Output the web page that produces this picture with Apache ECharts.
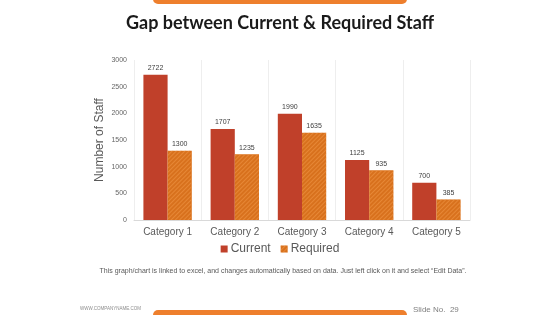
<!DOCTYPE html>
<html>
<head>
<meta charset="utf-8">
<script src="https://cdn.jsdelivr.net/npm/echarts@6/dist/echarts.min.js"></script>
<style>
  html, body { margin: 0; padding: 0; background: #fff; }
  #chart { width: 560px; height: 315px; }
</style>
</head>
<body>
<div id="chart"></div>
<script>
var categories = ["Category 1", "Category 2", "Category 3", "Category 4", "Category 5"];
var current = [2722, 1707, 1990, 1125, 700];
var required = [1300, 1235, 1635, 935, 385];
var yTicks = [0, 500, 1000, 1500, 2000, 2500, 3000];

var chart = echarts.init(document.getElementById("chart"));

var option = {
  backgroundColor: "#fff",
  animation: false,
  textStyle: { fontFamily: "Liberation Sans, Arial, sans-serif" },
  title: {
    text: "Gap between Current & Required Staff",
    left: "center",
    top: 9,
    textStyle: {
      fontFamily: "Lato",
      fontWeight: "bold",
      fontSize: 18,
      color: "#1a1a1a"
    }
  },
  legend: {
    data: ["Current", "Required"],
    bottom: 55,
    left: "center",
    itemWidth: 7,
    itemHeight: 7,
    itemGap: 10,
    icon: "rect",
    textStyle: { fontSize: 12, color: "#595959", padding: [0, 0, 0, -2] }
  },
  grid: { left: 134, right: 90, top: 60, bottom: 95 },
  xAxis: {
    type: "category",
    data: categories,
    axisLine: { lineStyle: { color: "#d9d9d9" } },
    axisTick: { show: false },
    axisLabel: { color: "#595959", fontSize: 10, margin: 7 },
    splitLine: { show: true, lineStyle: { color: "#eeeeee" } }
  },
  yAxis: {
    type: "value",
    min: yTicks[0],
    max: yTicks[yTicks.length - 1],
    interval: 500,
    name: "Number of Staff",
    nameLocation: "middle",
    nameGap: 28,
    nameMoveOverlap: false,
    nameTextStyle: { color: "#595959", fontSize: 12 },
    axisLine: { show: false },
    axisTick: { show: false },
    axisLabel: {
      color: "#666666",
      fontSize: 7,
      margin: 7,
      formatter: function (v) { return String(v); }
    },
    splitLine: { show: false }
  },
  series: [
    {
      name: "Current",
      type: "bar",
      data: current,
      barGap: "0%",
      barCategoryGap: "28%",
      itemStyle: { color: "#c0402a" },
      label: { show: true, position: "top", fontSize: 7, color: "#404040", distance: 3 }
    },
    {
      name: "Required",
      type: "bar",
      data: required,
      itemStyle: {
        color: "#d8711d",
        decal: {
          symbol: "rect",
          symbolSize: 1,
          dashArrayX: [1, 0],
          dashArrayY: [1, 2],
          rotation: -Math.PI / 4,
          color: "rgba(240,150,70,0.6)"
        }
      },
      label: { show: true, position: "top", fontSize: 7, color: "#404040", distance: 3 }
    }
  ],
  graphic: [
    {
      type: "rect",
      shape: { x: 153, y: -6, width: 254, height: 10, r: 5 },
      style: { fill: "#ee7f2d" }
    },
    {
      type: "rect",
      shape: { x: 153, y: 310, width: 254, height: 12, r: 5 },
      style: { fill: "#ee7f2d" }
    },
    {
      type: "text",
      x: 283,
      y: 271,
      style: {
        text: "This graph/chart is linked to excel, and changes automatically based on data. Just left click on it and select \u201cEdit Data\u201d.",
        fontSize: 7,
        fill: "#595959",
        align: "center",
        verticalAlign: "middle",
        fontFamily: "Liberation Sans"
      }
    },
    {
      type: "text",
      x: 80,
      y: 309,
      style: {
        text: "WWW.COMPANYNAME.COM",
        fontSize: 4.5,
        fill: "#8c8c8c",
        verticalAlign: "middle",
        fontFamily: "Liberation Sans"
      }
    },
    {
      type: "text",
      x: 413,
      y: 310,
      style: {
        text: "Slide No.  29",
        fontSize: 8,
        fill: "#7f7f7f",
        verticalAlign: "middle",
        fontFamily: "Liberation Sans"
      }
    }
  ]
};

chart.setOption(option);
</script>
</body>
</html>
